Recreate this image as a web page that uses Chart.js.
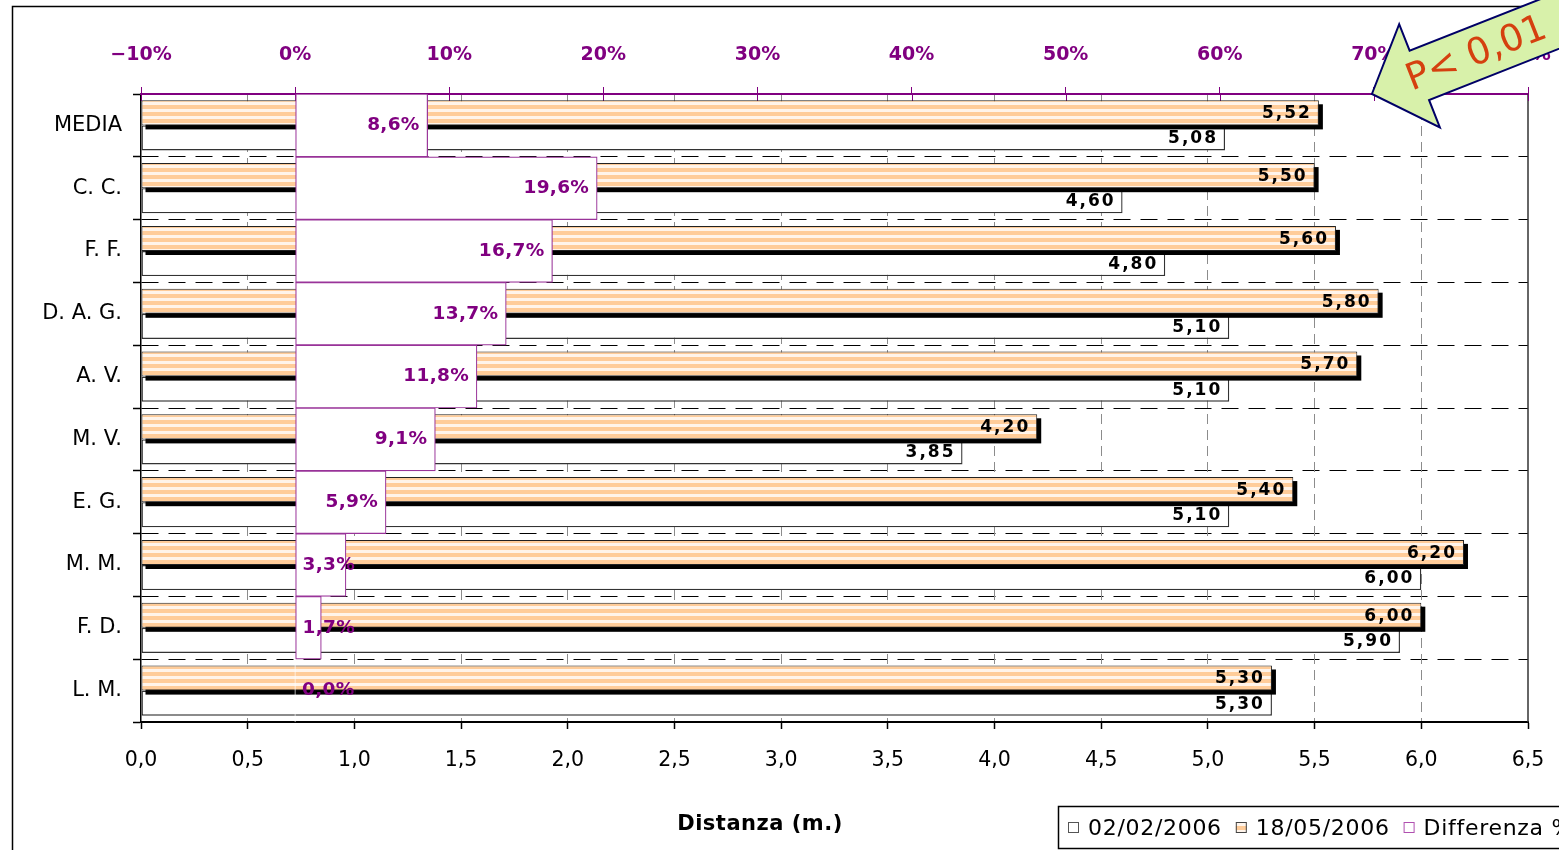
<!DOCTYPE html>
<html>
<head>
<meta charset="utf-8">
<script src="https://cdn.jsdelivr.net/npm/chart.js@4/dist/chart.umd.min.js"></script>
<style>
  html, body { margin: 0; padding: 0; background: #fff; }
  #wrap { width: 1559px; height: 850px; position: relative; }
</style>
</head>
<body>
<div id="wrap"><canvas id="c" width="1559" height="850"></canvas></div>
<script>
// Athletes (rows of the chart)
const categories = ['MEDIA', 'C. C.', 'F. F.', 'D. A. G.', 'A. V.', 'M. V.', 'E. G.', 'M. M.', 'F. D.', 'L. M.'];
// Distance (m.) at the two test dates
const distFeb = [5.08, 4.60, 4.80, 5.10, 5.10, 3.85, 5.10, 6.00, 5.90, 5.30];
const distMay = [5.52, 5.50, 5.60, 5.80, 5.70, 4.20, 5.40, 6.20, 6.00, 5.30];
// Percentage improvement between the two tests
const diffPct = [8.6, 19.6, 16.7, 13.7, 11.8, 9.1, 5.9, 3.3, 1.7, 0.0];
// Series names
const seriesNames = ['02/02/2006', '18/05/2006', 'Differenza %'];
// Axis tick labels
const distTickLabels = ['0,0', '0,5', '1,0', '1,5', '2,0', '2,5', '3,0', '3,5', '4,0', '4,5', '5,0', '5,5', '6,0', '6,5'];
const pctTickLabels = ['\u221210%', '0%', '10%', '20%', '30%', '40%', '50%', '60%', '70%', '80%'];
const axisTitle = 'Distanza (m.)';
const noteText = 'P< 0,01';

const FONT = '"DejaVu Sans", Verdana, sans-serif';
const PURPLE = '#800080';

const canvas = document.getElementById('c');
const ctx0 = canvas.getContext('2d');

// Peach/white horizontal stripes used for the second test
function stripes(ctx) {
  const p = document.createElement('canvas');
  p.width = 8; p.height = 7;
  const g = p.getContext('2d');
  g.fillStyle = '#FFF4EA'; g.fillRect(0, 0, 8, 7);
  g.fillStyle = '#FFCC99'; g.fillRect(0, 0, 8, 4);
  return ctx.createPattern(p, 'repeat');
}
const stripeFill = stripes(ctx0);

const fmt2 = v => v.toFixed(2).replace('.', ',');
const fmtPct = v => v.toFixed(1).replace('.', ',') + '%';

// Black drop shadow under the striped bars
const barShadow = {
  id: 'barShadow',
  beforeDatasetDraw(chart, args) {
    if (args.index !== 1) return;
    const ctx = chart.ctx;
    ctx.save();
    ctx.fillStyle = '#000';
    args.meta.data.forEach(el => {
      const { x, y, base, height } = el.getProps(['x', 'y', 'base', 'height'], true);
      const left = Math.min(x, base);
      ctx.fillRect(left + 4, y - height / 2 + 4, Math.abs(x - base), height);
    });
    ctx.restore();
  }
};

// Plot frame details: right edge and crossing ticks of the percentage axis
const frame = {
  id: 'frame',
  beforeDatasetsDraw(chart) {
    const { ctx, chartArea: a } = chart;
    const x2 = chart.scales.x2;
    ctx.save();
    ctx.strokeStyle = '#333';
    ctx.lineWidth = 1.5;
    ctx.beginPath();
    ctx.moveTo(a.right, a.top); ctx.lineTo(a.right, a.bottom);
    ctx.stroke();
    ctx.strokeStyle = PURPLE;
    ctx.lineWidth = 1;
    x2.ticks.forEach(t => {
      const px = Math.round(x2.getPixelForValue(t.value)) + 0.5;
      ctx.beginPath(); ctx.moveTo(px, a.top); ctx.lineTo(px, a.top + 7); ctx.stroke();
    });
    ctx.restore();
  }
};

// Value labels on the bars
const valueLabels = {
  id: 'valueLabels',
  afterDatasetsDraw(chart) {
    const ctx = chart.ctx;
    ctx.save();
    ctx.textBaseline = 'middle';
    ctx.textAlign = 'left';
    [0, 1].forEach(di => {
      const meta = chart.getDatasetMeta(di);
      const vals = chart.data.datasets[di].data;
      ctx.font = 'bold 17px ' + FONT;
      ctx.letterSpacing = '2px';
      ctx.fillStyle = '#000';
      meta.data.forEach((el, i) => {
        const s = fmt2(vals[i]);
        const w = ctx.measureText(s).width;
        ctx.fillText(s, el.x - 7 - w, el.y + 1);
      });
    });
    const meta = chart.getDatasetMeta(2);
    const vals = chart.data.datasets[2].data;
    ctx.font = 'bold 18.5px ' + FONT;
    ctx.letterSpacing = '0.3px';
    ctx.fillStyle = PURPLE;
    meta.data.forEach((el, i) => {
      const s = fmtPct(vals[i]);
      const w = ctx.measureText(s).width;
      const x = Math.max(el.x - 8 - w, el.base + 7);
      ctx.fillText(s, x, el.y);
    });
    ctx.restore();
  }
};

// Outer frame, axis title, boxed legend and the significance arrow
const decorations = {
  id: 'decorations',
  afterDraw(chart) {
    const { ctx, chartArea: a } = chart;
    ctx.save();
    // outer chart border
    ctx.strokeStyle = '#000';
    ctx.lineWidth = 1.5;
    ctx.strokeRect(12.5, 6.5, 2000, 2000);

    // axis title
    ctx.fillStyle = '#000';
    ctx.font = 'bold 21px ' + FONT;
    ctx.letterSpacing = '0.5px';
    ctx.textAlign = 'center';
    ctx.textBaseline = 'middle';
    ctx.fillText(axisTitle, 760, 825);

    // legend
    const lx = 1058, ly = 806, lh = 42;
    ctx.lineWidth = 1.5;
    ctx.strokeStyle = '#000';
    ctx.strokeRect(lx + 0.5, ly + 0.5, 700, lh);
    ctx.font = '22px ' + FONT;
    ctx.letterSpacing = '0.7px';
    ctx.textAlign = 'left';
    let x = lx + 10;
    const cy = ly + lh / 2 + 1;
    chart.data.datasets.forEach(ds => {
      ctx.fillStyle = ds.backgroundColor;
      ctx.fillRect(x, cy - 6, 11, 11);
      ctx.lineWidth = 1;
      ctx.strokeStyle = ds.legendStroke;
      ctx.strokeRect(x + 0.5, cy - 5.5, 10, 10);
      ctx.fillStyle = '#000';
      ctx.fillText(ds.label, x + 20, cy + 1);
      x += 20 + ctx.measureText(ds.label).width + 14;
    });

    // arrow pointing at the top-right of the plot
    const x2 = chart.scales.x2;
    ctx.translate(x2.getPixelForValue(70) - 2, a.top);
    ctx.rotate(-21.5 * Math.PI / 180);
    ctx.beginPath();
    ctx.moveTo(0, 0);
    ctx.lineTo(51, -55);
    ctx.lineTo(51, -26.5);
    ctx.lineTo(300, -26.5);
    ctx.lineTo(300, 26.5);
    ctx.lineTo(51, 26.5);
    ctx.lineTo(51, 56);
    ctx.closePath();
    ctx.fillStyle = '#D8F1AA';
    ctx.fill();
    ctx.lineWidth = 2;
    ctx.lineJoin = 'miter';
    ctx.strokeStyle = '#000066';
    ctx.stroke();
    ctx.fillStyle = '#D5400F';
    ctx.font = '37px ' + FONT;
    ctx.letterSpacing = '0px';
    ctx.textAlign = 'center';
    ctx.textBaseline = 'middle';
    ctx.fillText(noteText, 112, 2);
    ctx.restore();
  }
};

new Chart(canvas, {
  type: 'bar',
  data: {
    labels: categories,
    datasets: [
      {
        label: seriesNames[0],
        data: distFeb,
        xAxisID: 'x',
        order: 2,
        backgroundColor: '#FFFFFF',
        borderColor: '#333',
        legendStroke: '#555',
        borderWidth: 1.4,
        borderSkipped: false,
        barPercentage: 1,
        categoryPercentage: 0.8
      },
      {
        label: seriesNames[1],
        data: distMay,
        xAxisID: 'x',
        order: 1,
        backgroundColor: stripeFill,
        borderColor: '#222',
        legendStroke: '#444',
        borderWidth: 1,
        borderSkipped: false,
        barPercentage: 1,
        categoryPercentage: 0.8
      },
      {
        label: seriesNames[2],
        data: diffPct,
        xAxisID: 'x2',
        order: 0,
        grouped: false,
        backgroundColor: '#FFFFFF',
        borderColor: '#993399',
        legendStroke: '#B050B0',
        borderWidth: c => (c.raw === 0 ? 0 : 1.2),
        borderSkipped: false,
        barPercentage: 1,
        categoryPercentage: 1
      }
    ]
  },
  options: {
    indexAxis: 'y',
    responsive: false,
    animation: false,
    devicePixelRatio: 1,
    layout: { padding: { left: 0, right: 31, top: 0, bottom: 0 } },
    plugins: {
      legend: { display: false },
      tooltip: { enabled: false }
    },
    scales: {
      y: {
        type: 'category',
        position: 'left',
        offset: true,
        afterFit: s => { s.width = 141; s.paddingTop = 0; s.paddingBottom = 0; },
        grid: {
          offset: true,
          color: c => (c.index === 0 || c.index === categories.length) ? 'rgba(0,0,0,0)' : '#000',
          lineWidth: 1,
          tickColor: '#000',
          tickLength: 8,
          tickWidth: 1.5
        },
        border: { display: true, color: '#000', width: 1.5, dash: [17, 10] },
        ticks: {
          color: '#000',
          font: { family: FONT, size: 21 },
          padding: 11
        }
      },
      x: {
        type: 'linear',
        position: 'bottom',
        min: 0,
        max: 6.5,
        afterFit: s => { s.height = 128; s.paddingLeft = 0; s.paddingRight = 0; },
        ticks: {
          stepSize: 0.5,
          color: '#000',
          font: { family: FONT, size: 20.5 },
          padding: 19,
          callback: (v, i) => distTickLabels[i]
        },
        grid: {
          color: c => (c.index === 0 || c.index === distTickLabels.length - 1) ? 'rgba(0,0,0,0)' : '#8c8c8c',
          lineWidth: 1,
          tickColor: '#000',
          tickLength: 7,
          tickWidth: 1.5
        },
        border: { display: true, color: '#000', width: 2, dash: [10, 6] }
      },
      x2: {
        type: 'linear',
        position: 'top',
        min: -10,
        max: 80,
        afterFit: s => { s.height = 94; s.paddingLeft = 0; s.paddingRight = 0; },
        ticks: {
          stepSize: 10,
          color: PURPLE,
          font: { family: FONT, size: 19, weight: 'bold' },
          padding: 21,
          callback: (v, i) => pctTickLabels[i]
        },
        grid: {
          drawOnChartArea: false,
          color: PURPLE,
          tickColor: PURPLE,
          tickLength: 7,
          tickWidth: 1
        },
        border: { display: true, color: PURPLE, width: 2 }
      }
    }
  },
  plugins: [barShadow, frame, valueLabels, decorations]
});
</script>
</body>
</html>
